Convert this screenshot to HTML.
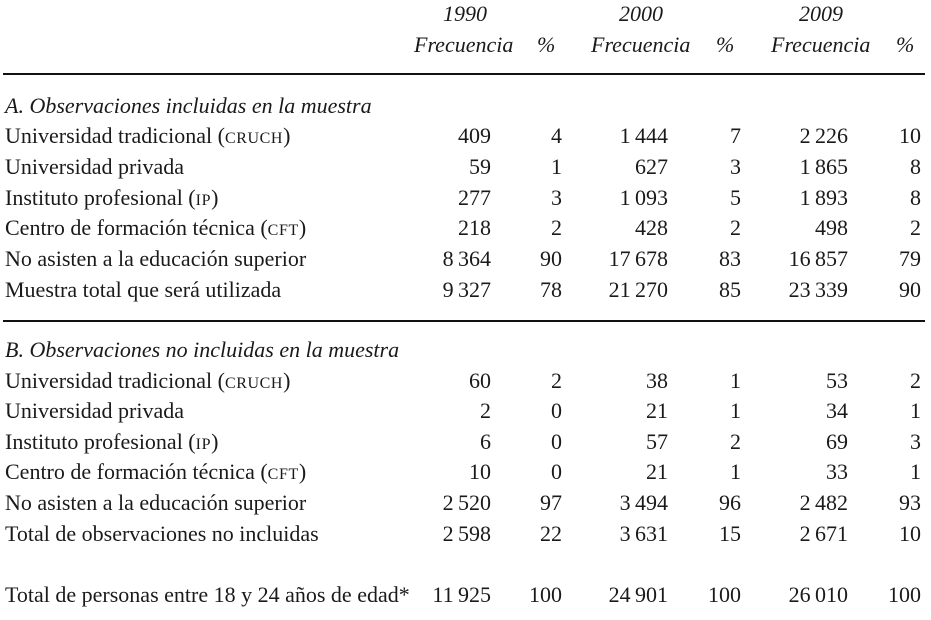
<!DOCTYPE html>
<html><head><meta charset="utf-8"><style>
body{margin:0;width:931px;height:620px;background:#fff;position:relative;font-family:"Liberation Serif",serif;font-size:22px;color:#1a1a1a;overflow:hidden}
.t{position:absolute;height:30px;line-height:30px;white-space:nowrap}
.r{text-align:right}
.i{font-style:italic}
.sc{font-size:16px;letter-spacing:0.6px}
.hl{position:absolute;left:3px;width:922px;height:2px;background:#111}
</style></head><body>
<div class="hl" style="top:73px"></div>
<div class="hl" style="top:320px"></div>
<div id="c"></div>
<script>
var c=document.getElementById('c'),h='';
function T(x,y,s,cls,w){h+='<div class="t '+(cls||'')+'" style="'+(w?'right:'+(931-x)+'px':'left:'+x+'px')+';top:'+(y-15)+'px">'+s+'</div>';}
T(443,14,'1990','i');T(619,14,'2000','i');T(799,14,'2009','i');
T(414,45,'Frecuencia','i');T(537,45,'%','i');T(591,45,'Frecuencia','i');T(716,45,'%','i');T(771,45,'Frecuencia','i');T(896,45,'%','i');
var ys=[136,167,198,228,259,290],yb=[381,411,442,472,503,534];
var L=['Universidad tradicional (<span class="sc">CRUCH</span>)','Universidad privada','Instituto profesional (<span class="sc">IP</span>)','Centro de formación técnica (<span class="sc">CFT</span>)','No asisten a la educación superior'];
var A=[['409','4','1\u2009444','7','2\u2009226','10'],['59','1','627','3','1\u2009865','8'],['277','3','1\u2009093','5','1\u2009893','8'],['218','2','428','2','498','2'],['8\u2009364','90','17\u2009678','83','16\u2009857','79'],['9\u2009327','78','21\u2009270','85','23\u2009339','90']];
var B=[['60','2','38','1','53','2'],['2','0','21','1','34','1'],['6','0','57','2','69','3'],['10','0','21','1','33','1'],['2\u2009520','97','3\u2009494','96','2\u2009482','93'],['2\u2009598','22','3\u2009631','15','2\u2009671','10']];
var X=[491,562,668,741,848,921];
T(5,106,'A. Observaciones incluidas en la muestra','i');
T(5,350,'B. Observaciones no incluidas en la muestra','i');
function rows(Y,D,last){for(var k=0;k<6;k++){T(5,Y[k],k<5?L[k]:last);for(var j=0;j<6;j++)T(X[j],Y[k],D[k][j],'r',1);}}
rows(ys,A,'Muestra total que será utilizada');
rows(yb,B,'Total de observaciones no incluidas');
T(5,595,'Total de personas entre 18 y 24 años de edad*');
var F=['11\u2009925','100','24\u2009901','100','26\u2009010','100'];
for(var j=0;j<6;j++)T(X[j],595,F[j],'r',1);
c.innerHTML=h;
</script>
</body></html>
